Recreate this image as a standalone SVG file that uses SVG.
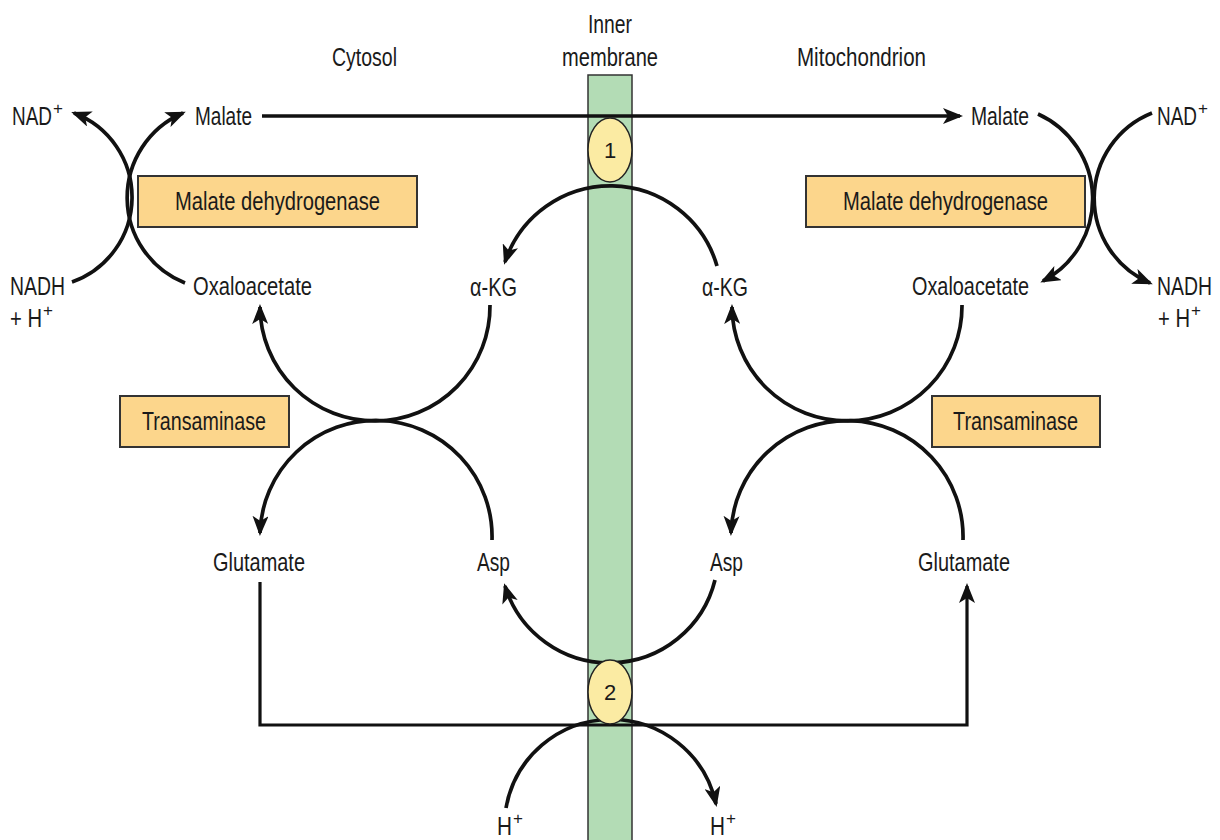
<svg xmlns="http://www.w3.org/2000/svg" width="1220" height="840" viewBox="0 0 1220 840">
<style>
text{font-family:"Liberation Sans",Arial,sans-serif;font-size:26px;fill:#1a1a1a}
.sup{font-size:17px}
.c{fill:none;stroke:#111;stroke-width:3.7}
.t{fill:none;stroke:#111;stroke-width:3.2}
.box{fill:#fcd68c;stroke:#333;stroke-width:2}
.pore{fill:#fbeba3;stroke:#222;stroke-width:1.5}
.num{font-size:22px;text-anchor:middle}
</style>
<defs>
<marker id="ah" viewBox="0 0 20 16" refX="17" refY="8" markerWidth="20" markerHeight="16" markerUnits="userSpaceOnUse" orient="auto">
<path d="M0,0 L20,8 L0,16 L5,8 Z" fill="#111"/>
</marker>
</defs>
<rect width="1220" height="840" fill="#ffffff"/>

<g id="membrane">
<rect x="588" y="75" width="44" height="780" fill="#b3dcb5" stroke="#333" stroke-width="1.5"/>
</g>

<g id="headers">
<text x="610" y="33" text-anchor="middle" textLength="44" lengthAdjust="spacingAndGlyphs">Inner</text>
<text x="610" y="66" text-anchor="middle" textLength="96" lengthAdjust="spacingAndGlyphs">membrane</text>
<text x="332" y="66" textLength="65" lengthAdjust="spacingAndGlyphs">Cytosol</text>
<text x="797" y="66" textLength="129" lengthAdjust="spacingAndGlyphs">Mitochondrion</text>
</g>

<g id="connectors">
<path class="c" d="M262,116 H960" marker-end="url(#ah)"/>
<path class="c" d="M72,282 A90,90 0 0 0 74,113" marker-end="url(#ah)"/>
<path class="c" d="M185,283 A92,92 0 0 1 183,113" marker-end="url(#ah)"/>
<path class="c" d="M1038,114 A93,93 0 0 1 1043,281" marker-end="url(#ah)"/>
<path class="c" d="M1152,113 A92,92 0 0 0 1150,283" marker-end="url(#ah)"/>
<path class="c" d="M490,305 A115,115 0 0 1 260,307" marker-end="url(#ah)"/>
<path class="c" d="M492,540 A115,115 0 0 0 260,533" marker-end="url(#ah)"/>
<path class="c" d="M962,305 A115,115 0 0 1 732,307" marker-end="url(#ah)"/>
<path class="c" d="M963,540 A115,115 0 0 0 731,533" marker-end="url(#ah)"/>
<path class="c" d="M717,266 A111,111 0 0 0 505,262" marker-end="url(#ah)"/>
<path class="c" d="M715,580 A109,109 0 0 1 505,586" marker-end="url(#ah)"/>
<path class="t" d="M260,582 V725 H967 V586" marker-end="url(#ah)"/>
<path class="c" d="M506,808 A107,107 0 0 1 716,804" marker-end="url(#ah)"/>
</g>

<g id="transporter1">
<ellipse class="pore" cx="610" cy="150" rx="22" ry="32"/>
<text class="num" x="610" y="158">1</text>
</g>
<g id="transporter2">
<ellipse class="pore" cx="610" cy="692" rx="22" ry="32"/>
<text class="num" x="610" y="700">2</text>
</g>

<g id="mdh-cyto">
<rect class="box" x="138" y="176" width="279" height="51"/>
<text x="175" y="210" textLength="205" lengthAdjust="spacingAndGlyphs">Malate dehydrogenase</text>
</g>
<g id="mdh-mito">
<rect class="box" x="806" y="176" width="279" height="51"/>
<text x="843" y="210" textLength="205" lengthAdjust="spacingAndGlyphs">Malate dehydrogenase</text>
</g>
<g id="ta-cyto">
<rect class="box" x="120" y="396" width="169" height="51"/>
<text x="142" y="430" textLength="124" lengthAdjust="spacingAndGlyphs">Transaminase</text>
</g>
<g id="ta-mito">
<rect class="box" x="932" y="396" width="168" height="51"/>
<text x="953" y="430" textLength="125" lengthAdjust="spacingAndGlyphs">Transaminase</text>
</g>

<g id="nad-cyto"><text x="12" y="125"><tspan textLength="40" lengthAdjust="spacingAndGlyphs">NAD</tspan><tspan class="sup" dx="1" dy="-11">+</tspan></text></g>
<g id="malate-cyto"><text x="195" y="125" textLength="57" lengthAdjust="spacingAndGlyphs">Malate</text></g>
<g id="malate-mito"><text x="971" y="125" textLength="58" lengthAdjust="spacingAndGlyphs">Malate</text></g>
<g id="nad-mito"><text x="1157" y="125"><tspan textLength="40" lengthAdjust="spacingAndGlyphs">NAD</tspan><tspan class="sup" dx="1" dy="-11">+</tspan></text></g>

<g id="nadh-cyto">
<text x="10" y="295" textLength="55" lengthAdjust="spacingAndGlyphs">NADH</text>
<text x="10" y="327"><tspan textLength="32" lengthAdjust="spacingAndGlyphs">+ H</tspan><tspan class="sup" dx="1" dy="-11">+</tspan></text>
</g>
<g id="oaa-cyto"><text x="193" y="295" textLength="119" lengthAdjust="spacingAndGlyphs">Oxaloacetate</text></g>
<g id="akg-cyto"><text x="470" y="296" textLength="47" lengthAdjust="spacingAndGlyphs">α-KG</text></g>
<g id="akg-mito"><text x="702" y="296" textLength="46" lengthAdjust="spacingAndGlyphs">α-KG</text></g>
<g id="oaa-mito"><text x="912" y="295" textLength="117" lengthAdjust="spacingAndGlyphs">Oxaloacetate</text></g>
<g id="nadh-mito">
<text x="1157" y="295" textLength="55" lengthAdjust="spacingAndGlyphs">NADH</text>
<text x="1158" y="327"><tspan textLength="32" lengthAdjust="spacingAndGlyphs">+ H</tspan><tspan class="sup" dx="1" dy="-11">+</tspan></text>
</g>

<g id="glu-cyto"><text x="213" y="571" textLength="92" lengthAdjust="spacingAndGlyphs">Glutamate</text></g>
<g id="asp-cyto"><text x="477" y="571" textLength="33" lengthAdjust="spacingAndGlyphs">Asp</text></g>
<g id="asp-mito"><text x="710" y="571" textLength="33" lengthAdjust="spacingAndGlyphs">Asp</text></g>
<g id="glu-mito"><text x="918" y="571" textLength="92" lengthAdjust="spacingAndGlyphs">Glutamate</text></g>

<g id="h-cyto"><text x="497" y="835"><tspan textLength="15" lengthAdjust="spacingAndGlyphs">H</tspan><tspan class="sup" dx="1" dy="-11">+</tspan></text></g>
<g id="h-mito"><text x="710" y="835"><tspan textLength="15" lengthAdjust="spacingAndGlyphs">H</tspan><tspan class="sup" dx="1" dy="-11">+</tspan></text></g>
</svg>
